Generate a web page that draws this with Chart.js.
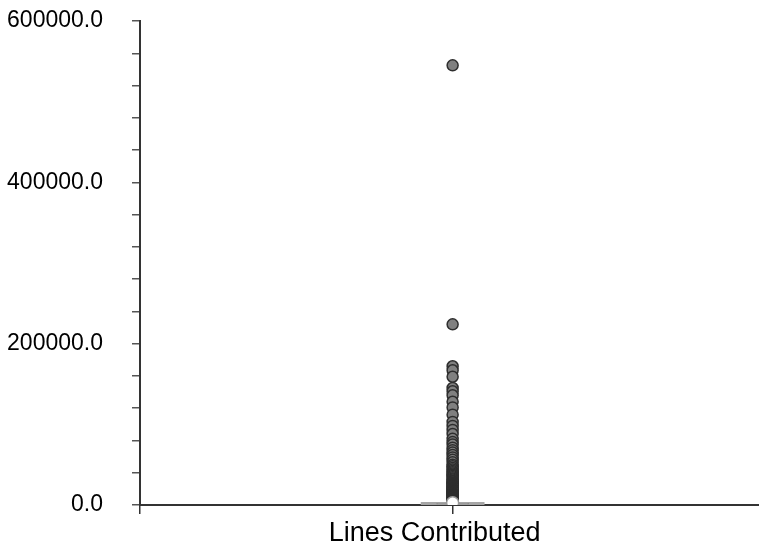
<!DOCTYPE html>
<html>
<head>
    <meta charset="UTF-8">
    <title>linesContributed</title>
    <script src="https://cdn.jsdelivr.net/npm/chart.js"></script>
    <style>
        body { margin: 0; background: #fff; }
        #wrap { width: 759px; height: 550px; }
    </style>
</head>
<body>
    <div id="wrap">
        <canvas id="boxChart"></canvas>
    </div>

    <script>
        // data
        var categories = ['Lines Contributed'];
        var boxStats = [0, 0, 400, 2000, 2400];   // whiskerLow, q1, median, q3, whiskerHigh
        var meanValue = 2800;
        var outliers = [
            545000, 224000, 172000, 167000, 159000, 145000, 141000, 136000, 128000,
            121000, 112000, 103000, 98000, 93000, 88000, 82000, 78000, 75000, 71000,
            68000, 65000, 62000, 59000, 56000, 53000, 50000, 48000, 46000, 44000,
            42000, 40500, 39000, 37500, 36000, 34500, 33000, 31500, 30000, 29000,
            28000, 27000, 26000, 25000, 24000, 23000, 22000, 21000, 20000, 19200,
            18400, 17600, 16800, 16000, 15200, 14500, 13800, 13100, 12400, 11800,
            11200, 10600, 10000, 9500, 9000, 8500, 8000, 7500, 7000, 6500, 6000,
            5500, 5000, 4600, 4200
        ];
        var yTicks = [0, 200000, 400000, 600000];

        var font = "'Liberation Sans', Arial, sans-serif";
        var cx = 1;          // position of the category on the x scale
        var capHalf = 0.102; // half width of whisker caps

        function segment(x1, y1, x2, y2, color, width) {
            return {
                type: 'line',
                data: [{ x: x1, y: y1 }, { x: x2, y: y2 }],
                borderColor: color,
                borderWidth: width,
                pointRadius: 0,
                order: 3
            };
        }

        function createBoxChart() {
            var ctx = document.getElementById('boxChart').getContext('2d');
            var datasets = [];

            // whiskers
            datasets.push(segment(cx - capHalf, boxStats[0], cx + capHalf, boxStats[0], '#a6a6a6', 2));
            datasets.push(segment(cx - capHalf, boxStats[4], cx + capHalf, boxStats[4], '#a6a6a6', 2));
            datasets.push(segment(cx, boxStats[0], cx, boxStats[1], '#a6a6a6', 1));
            datasets.push(segment(cx, boxStats[3], cx, boxStats[4], '#a6a6a6', 1));

            // box
            datasets.push({
                type: 'bar',
                data: [{ x: cx, y: [boxStats[1], boxStats[3]] }],
                backgroundColor: '#9c9c9c',
                borderColor: '#8a8a8a',
                borderWidth: 1,
                borderSkipped: false,
                barThickness: 32,
                order: 2
            });

            // outliers
            datasets.push({
                type: 'scatter',
                data: outliers.map(function (v) { return { x: cx, y: v }; }),
                backgroundColor: '#808080',
                borderColor: '#2e2e2e',
                borderWidth: 1.5,
                pointRadius: 5.5,
                order: 1
            });

            // mean
            datasets.push({
                type: 'scatter',
                data: [{ x: cx, y: meanValue }],
                backgroundColor: '#ffffff',
                borderColor: '#9a9a9a',
                borderWidth: 1.5,
                pointRadius: 6,
                order: 0
            });

            new Chart(ctx, {
                type: 'scatter',
                data: { datasets: datasets },
                options: {
                    responsive: true,
                    maintainAspectRatio: false,
                    animation: false,
                    layout: { autoPadding: false, padding: { top: 0, right: 0, left: 0, bottom: 0 } },
                    plugins: {
                        legend: { display: false },
                        tooltip: { enabled: false }
                    },
                    scales: {
                        x: {
                            type: 'linear',
                            min: 0,
                            max: 1.98,
                            offset: false,
                            afterBuildTicks: function (scale) {
                                scale.ticks = [{ value: 0 }, { value: cx }];
                            },
                            afterFit: function (scale) { scale.height = 45; },
                            ticks: {
                                padding: 3,
                                labelOffset: -18,
                                color: '#000',
                                font: { family: font, size: 27 },
                                maxRotation: 0,
                                autoSkip: false,
                                callback: function (v) { return v === cx ? categories[0] : ''; }
                            },
                            grid: {
                                offset: false,
                                drawOnChartArea: false,
                                drawTicks: true,
                                tickLength: 9,
                                color: '#333',
                                lineWidth: 1.5
                            },
                            border: { color: '#333', width: 2 }
                        },
                        y: {
                            min: 0,
                            max: 600000,
                            afterFit: function (scale) {
                                scale.width = 140;
                                scale.paddingTop = 21;
                                scale.paddingBottom = 0;
                            },
                            ticks: {
                                stepSize: 40000,
                                padding: 29,
                                color: '#000',
                                font: { family: font, size: 23 },
                                callback: function (v) {
                                    return yTicks.indexOf(v) >= 0 ? v.toFixed(1) : '';
                                }
                            },
                            grid: {
                                drawOnChartArea: false,
                                drawTicks: true,
                                tickLength: 8,
                                color: '#555',
                                lineWidth: 1.5
                            },
                            border: { color: '#333', width: 2 }
                        }
                    }
                }
            });
        }
        createBoxChart();
    </script>
</body>
</html>
